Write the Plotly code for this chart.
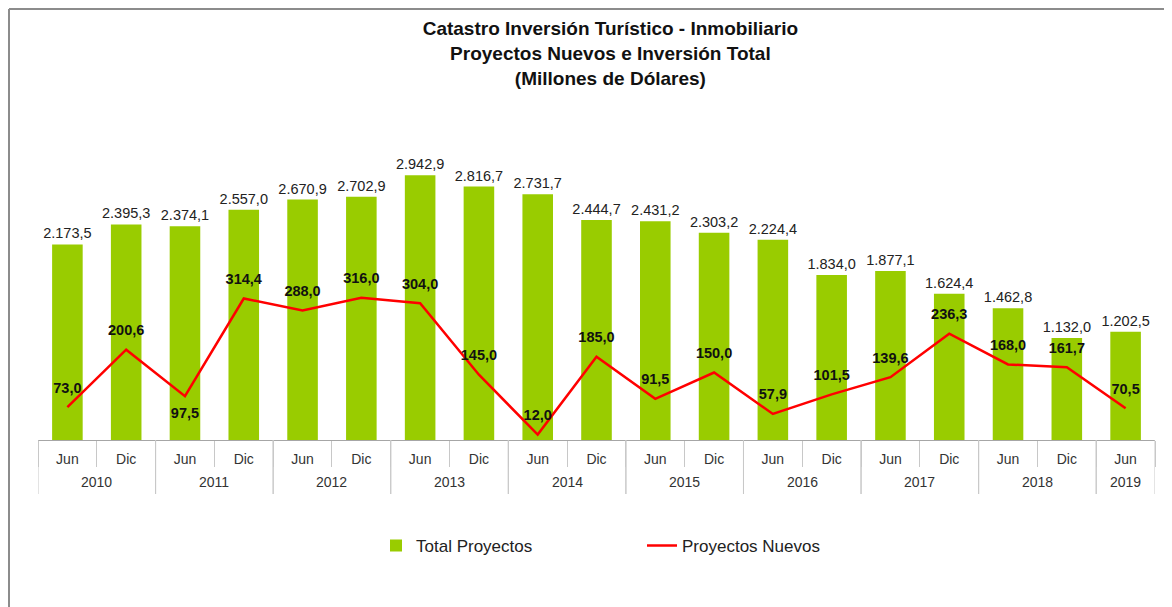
import plotly.graph_objects as go

years = ["2010", "2010", "2011", "2011", "2012", "2012", "2013", "2013", "2014", "2014",
         "2015", "2015", "2016", "2016", "2017", "2017", "2018", "2018", "2019"]
periods = ["Jun", "Dic"] * 9 + ["Jun"]
total_proyectos = [2173.5, 2395.3, 2374.1, 2557.0, 2670.9, 2702.9, 2942.9, 2816.7, 2731.7, 2444.7,
                   2431.2, 2303.2, 2224.4, 1834.0, 1877.1, 1624.4, 1462.8, 1132.0, 1202.5]
proyectos_nuevos = [73.0, 200.6, 97.5, 314.4, 288.0, 316.0, 304.0, 145.0, 12.0, 185.0,
                    91.5, 150.0, 57.9, 101.5, 139.6, 236.3, 168.0, 161.7, 70.5]

FONT = "Liberation Sans, Arial, sans-serif"

# plot area in pixels (the page adds an 8px body margin)
L, R, T, B = 30, 25, 117, 175
W, H = 1172, 607
pw, ph = W - L - R, H - T - B

cats = [p + " " + y for p, y in zip(periods, years)]
line_pos = ["bottom center" if i == 2 else "top center" for i in range(len(proyectos_nuevos))]

fig = go.Figure()
fig.add_trace(go.Bar(
    x=cats, y=total_proyectos, name="Total Proyectos",
    marker_color="#99CC00", marker_line_width=0,
    texttemplate="%{y:,.1f}", textposition="outside", cliponaxis=False, constraintext="none",
    textfont=dict(family=FONT, size=14.5, color="#222"),
))
fig.add_trace(go.Scatter(
    x=cats, y=proyectos_nuevos, name="Proyectos Nuevos", yaxis="y2",
    mode="lines+markers+text", line=dict(color="#FF0000", width=2.5),
    marker=dict(size=16, color="rgba(0,0,0,0)"),
    texttemplate="<b>%{y:,.1f}</b>", textposition=line_pos, cliponaxis=False,
    textfont=dict(family=FONT, size=14.5, color="#111"),
))

# year groups: label under the middle of each group, divider lines at group edges
groups = {}
for i, y in enumerate(years):
    groups.setdefault(y, []).append(i)
shapes = []
for y, idx in groups.items():
    fig.add_annotation(x=sum(idx) / len(idx), y=-42 / ph, xref="x", yref="paper",
                       text=y, showarrow=False, yanchor="middle",
                       font=dict(family=FONT, size=14, color="#333"))
    for edge in (idx[0] - 0.5, idx[-1] + 0.5):
        shapes.append(dict(type="line", xref="x", yref="paper", x0=edge, x1=edge,
                           y0=0, y1=-54 / ph, line=dict(color="#C8C8C8", width=1)))

# chart frame (top and left edges)
shapes += [
    dict(type="line", xref="paper", yref="paper",
         x0=(1 - L) / pw, x1=(W - L) / pw, y0=(H - B - 1) / ph, y1=(H - B - 1) / ph,
         line=dict(color="#8C8C8C", width=2)),
    dict(type="line", xref="paper", yref="paper",
         x0=(1 - L) / pw, x1=(1 - L) / pw, y0=(H - B - 1) / ph, y1=(H - B - H) / ph,
         line=dict(color="#8C8C8C", width=2)),
]

fig.update_layout(
    width=W, height=H,
    margin=dict(l=L, r=R, t=T, b=B, autoexpand=False),
    paper_bgcolor="white", plot_bgcolor="white",
    separators=",.",
    font=dict(family=FONT, size=14, color="#333"),
    title=dict(
        text="<b>Catastro Inversión Turístico - Inmobiliario<br>Proyectos Nuevos e Inversión Total<br>(Millones de Dólares)</b>",
        x=0.514, xanchor="center", xref="container", y=0.955, yanchor="top",
        font=dict(family=FONT, size=19, color="#111"),
    ),
    bargap=0.48,
    showlegend=True,
    legend=dict(orientation="h", x=(368 - L) / pw, xanchor="left", y=-0.336, yanchor="middle",
                entrywidth=221, entrywidthmode="pixels", itemwidth=30,
                font=dict(family=FONT, size=17, color="#222")),
    xaxis=dict(
        type="category", range=[-0.5, 18.5], automargin=False,
        tickmode="array", tickvals=cats, ticktext=periods,
        showline=True, linecolor="#A6A6A6", linewidth=1,
        ticks="outside", tickson="boundaries", ticklen=26, tickcolor="#C8C8C8",
        ticklabelstandoff=6,
        tickfont=dict(family=FONT, size=14, color="#333"),
    ),
    yaxis=dict(range=[0, 3500], visible=False, showgrid=False),
    yaxis2=dict(range=[0, 700], visible=False, showgrid=False, overlaying="y", side="right"),
    shapes=shapes,
)

fig.write_html("out.html")
